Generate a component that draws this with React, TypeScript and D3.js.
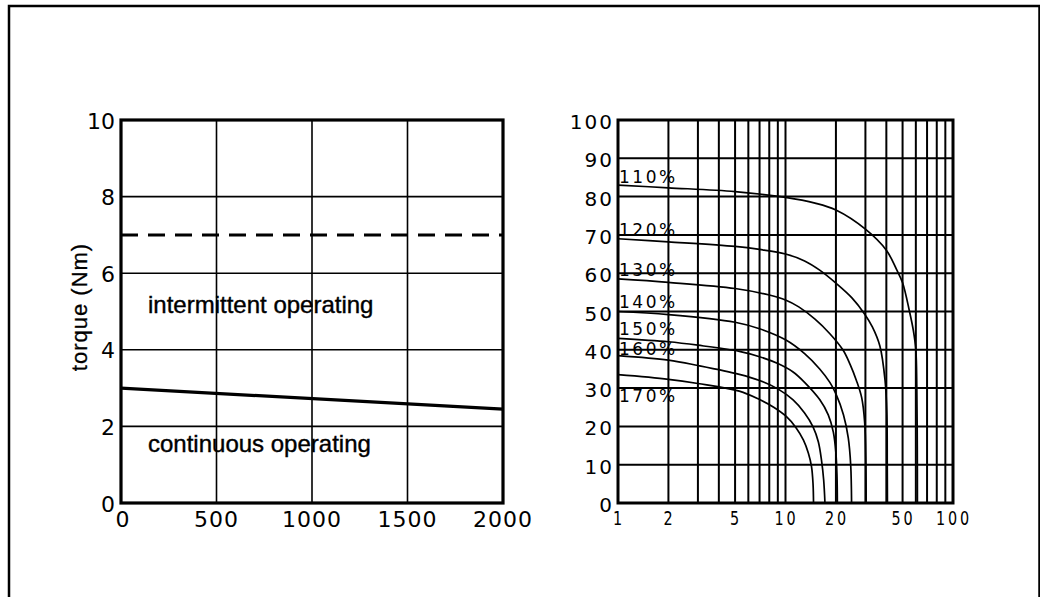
import React from "react";
import * as d3 from "d3";

// ---------- Left chart data ----------
const leftXTicks = [0, 500, 1000, 1500, 2000];
const leftYTicks = [0, 2, 4, 6, 8, 10];
const intermittentSpeed = [0, 2000];
const intermittentTorque = [7, 7];
const continuousSpeed = [0, 2000];
const continuousTorque = [3.0, 2.45];

// ---------- Right chart data ----------
const rightXTicks = [1, 2, 5, 10, 20, 50, 100];
const rightXGrid = [2, 3, 4, 5, 6, 7, 8, 9, 10, 20, 30, 40, 50, 60, 70, 80, 90];
const rightYTicks = [0, 10, 20, 30, 40, 50, 60, 70, 80, 90, 100];
const overloadLabels = ["110%", "120%", "130%", "140%", "150%", "160%", "170%"];

const c110x = [1, 2, 5, 10, 15, 20, 30, 40, 46, 50, 55, 58, 60, 60.8, 61.2, 61.3];
const c110y = [83, 82.3, 81.3, 79.8, 78.3, 76.5, 71.5, 66, 61, 57.5, 50, 45, 40, 30, 15, 0];
const c120x = [1, 2, 5, 7, 10, 13, 16, 20, 25, 29.5, 33, 36.6, 39.3, 40.3, 40.5, 40.6];
const c120y = [69, 68.2, 67, 66.2, 65, 63.2, 60.8, 57.4, 53.5, 49.5, 46, 41, 32, 23, 10, 0];
const c130x = [1, 2, 5, 8, 10, 12, 15, 18.4, 22, 24.3, 26.5, 28.5, 29.7, 30.2, 30.3];
const c130y = [58.5, 57.6, 56, 54.3, 53, 51.2, 48, 44.2, 40, 36.2, 32, 27.5, 21, 10, 0];
const c140x = [1, 2, 5, 7, 10, 13, 16, 18.4, 20, 22.2, 23.7, 24.5, 24.8];
const c140y = [50, 49.2, 47.2, 45.5, 42.6, 39, 35, 31.5, 28.5, 23, 17, 10, 0];
const c150x = [1, 2, 3, 5.3, 7, 9, 11.1, 13, 16, 18, 19.3, 20, 20.3, 20.4];
const c150y = [43, 42.1, 41.2, 39.6, 38.2, 36.4, 34.2, 31.5, 27, 23, 18.5, 13, 7, 0];
const c160x = [1, 2, 3, 5.3, 7, 9, 11.1, 13, 14.6, 15.7, 16.4, 16.9, 17.2];
const c160y = [38.5, 37.3, 35.9, 33.6, 32, 29.8, 26.9, 23.5, 19.9, 16, 11.2, 6, 0];
const c170x = [1, 2, 3, 5.3, 7, 8.5, 10.1, 11.5, 12.8, 13.7, 14.3, 14.6, 14.7];
const c170y = [33.5, 32.3, 31.2, 29.2, 27, 25, 22.6, 19.8, 16.4, 13, 9.5, 5, 0];

const curveXs = [c110x, c120x, c130x, c140x, c150x, c160x, c170x];
const curveYs = [c110y, c120y, c130y, c140y, c150y, c160y, c170y];

const W = 1040;
const H = 597;

const numFont = "'DejaVu Sans', 'Liberation Sans', sans-serif";
const textFont = "'Liberation Sans', Arial, Helvetica, sans-serif";

export default function App() {
  const xL = d3.scaleLinear().domain([0, 2000]).range([121, 503]);
  const yL = d3.scaleLinear().domain([0, 10]).range([503, 120]);
  const xR = d3.scaleLog().domain([1, 100]).range([618, 953]);
  const yR = d3.scaleLinear().domain([0, 100]).range([503, 120]);

  const lineL = d3
    .line<[number, number]>()
    .x((d) => xL(d[0]))
    .y((d) => yL(d[1]));
  const lineR = d3
    .line<[number, number]>()
    .x((d) => xR(d[0]))
    .y((d) => yR(d[1]))
    .curve(d3.curveCatmullRom.alpha(0.5));

  const zip = (a: number[], b: number[]) => a.map((v, i) => [v, b[i]] as [number, number]);

  const labelOffsets = [-2, -3, -3, -4, -3, -1, 27];

  return (
    <svg
      width={W}
      height={H}
      style={{ position: "absolute", left: 0, top: 0, background: "#fff" }}
    >
      <rect x={0} y={0} width={W} height={H} fill="#fff" />
      {/* outer frame */}
      <path d={`M9,${H + 5}V6H1039.5V${H + 5}`} fill="none" stroke="#000" strokeWidth={2.5} />

      {/* ---------- LEFT CHART ---------- */}
      <g>
        {leftXTicks.slice(1, -1).map((t) => (
          <line key={"lx" + t} x1={xL(t)} x2={xL(t)} y1={yL(0)} y2={yL(10)} stroke="#000" strokeWidth={1.6} />
        ))}
        {leftYTicks.slice(1, -1).map((t) => (
          <line key={"ly" + t} x1={xL(0)} x2={xL(2000)} y1={yL(t)} y2={yL(t)} stroke="#000" strokeWidth={1.6} />
        ))}
        <path
          d={lineL(zip(intermittentSpeed, intermittentTorque)) || ""}
          fill="none"
          stroke="#000"
          strokeWidth={3}
          strokeDasharray="17 10"
        />
        <path
          d={lineL(zip(continuousSpeed, continuousTorque)) || ""}
          fill="none"
          stroke="#000"
          strokeWidth={3.2}
        />
        <rect
          x={xL(0)}
          y={yL(10)}
          width={xL(2000) - xL(0)}
          height={yL(0) - yL(10)}
          fill="none"
          stroke="#000"
          strokeWidth={3.2}
        />
        {leftYTicks.map((t) => (
          <text
            key={"lyt" + t}
            x={115}
            y={yL(t) + 1}
            textAnchor="end"
            dominantBaseline="central"
            fontFamily={numFont}
            fontSize={22}
          >
            {t}
          </text>
        ))}
        {leftXTicks.map((t) => (
          <text
            key={"lxt" + t}
            x={t === 0 ? xL(t) + 2 : xL(t)}
            y={527}
            textAnchor="middle"
            fontFamily={numFont}
            fontSize={22}
            letterSpacing={1}
          >
            {t}
          </text>
        ))}
        <text
          transform="translate(79,307) rotate(-90)"
          textAnchor="middle"
          dominantBaseline="central"
          fontFamily={textFont}
          fontSize={22}
          letterSpacing={1}
          stroke="#000"
          strokeWidth={0.3}
        >
          torque (Nm)
        </text>
        <text x={148} y={313} fontFamily={textFont} fontSize={24} stroke="#000" strokeWidth={0.4}>
          intermittent operating
        </text>
        <text x={148} y={452} fontFamily={textFont} fontSize={24} stroke="#000" strokeWidth={0.4}>
          continuous operating
        </text>
      </g>

      {/* ---------- RIGHT CHART ---------- */}
      <g>
        {rightXGrid.map((t) => (
          <line key={"rx" + t} x1={xR(t)} x2={xR(t)} y1={yR(0)} y2={yR(100)} stroke="#000" strokeWidth={2} />
        ))}
        {rightYTicks.slice(1, -1).map((t) => (
          <line key={"ry" + t} x1={xR(1)} x2={xR(100)} y1={yR(t)} y2={yR(t)} stroke="#000" strokeWidth={2} />
        ))}
        {curveXs.map((xs, i) => (
          <path
            key={"c" + i}
            d={lineR(zip(xs, curveYs[i])) || ""}
            fill="none"
            stroke="#000"
            strokeWidth={1.7}
          />
        ))}
        <rect
          x={xR(1)}
          y={yR(100)}
          width={xR(100) - xR(1)}
          height={yR(0) - yR(100)}
          fill="none"
          stroke="#000"
          strokeWidth={3}
        />
        {overloadLabels.map((lab, i) => (
          <text
            key={lab}
            x={619}
            y={yR(curveYs[i][0]) + labelOffsets[i]}
            fontFamily={numFont}
            fontSize={17}
            letterSpacing={2.5}
          >
            {lab}
          </text>
        ))}
        {rightYTicks.map((t) => (
          <text
            key={"ryt" + t}
            x={614}
            y={yR(t) + 2}
            textAnchor="end"
            dominantBaseline="central"
            fontFamily={numFont}
            fontSize={20}
            letterSpacing={2}
          >
            {t}
          </text>
        ))}
        {rightXTicks.map((t) => (
          <g key={"rxt" + t} transform={`translate(${xR(t) + 1},525) scale(0.72,1)`}>
            <text
              x={0}
              y={0}
              textAnchor="middle"
              fontFamily={numFont}
              fontSize={20}
              letterSpacing={4}
            >
              {t}
            </text>
          </g>
        ))}
      </g>
    </svg>
  );
}
